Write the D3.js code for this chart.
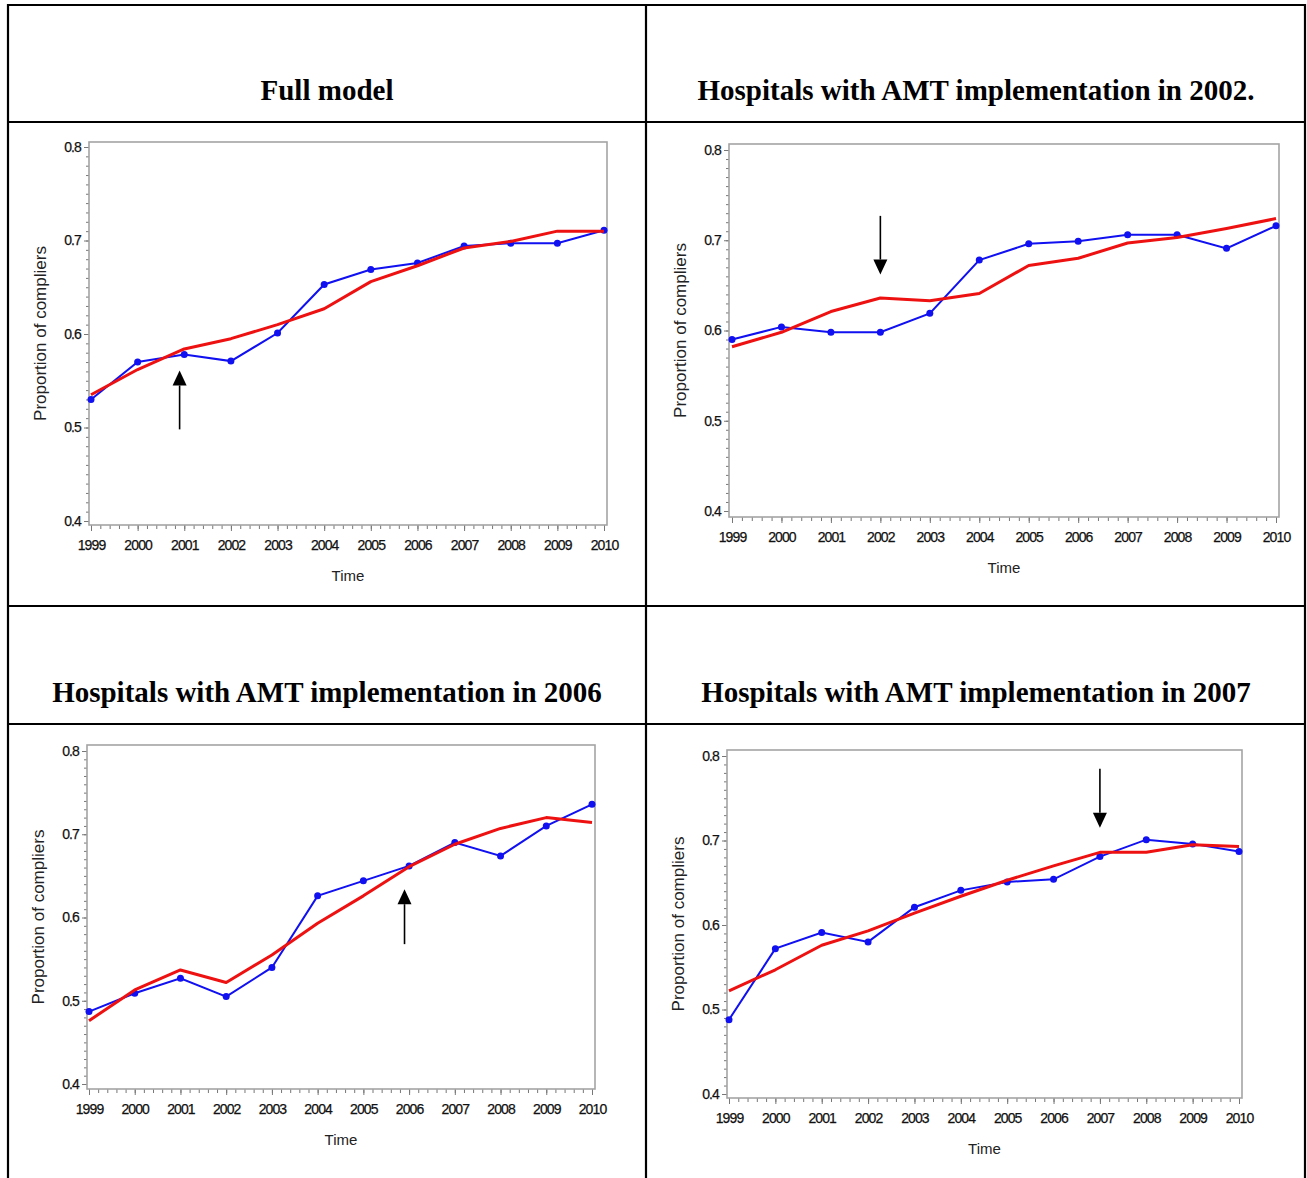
<!DOCTYPE html>
<html>
<head>
<meta charset="utf-8">
<script src="https://cdn.jsdelivr.net/npm/d3@7/dist/d3.min.js"></script>
<style>
	body { margin: 0; background: #fff; }
	svg { display: block; }
	.tick text { font-family: 'Liberation Sans', Arial, sans-serif; font-size: 14px; fill: #111; letter-spacing: -0.9px; stroke: #111; stroke-width: 0.25px; }
	.tick line { stroke: #777; }
	.axis-title { font-family: 'Liberation Sans', Arial, sans-serif; fill: #222; }
	.panel-title { font-family: 'Liberation Serif', 'Times New Roman', serif; font-weight: bold; font-size: 29px; fill: #000; }
</style>
</head>
<body>
<div id="chart"></div>
<script>
var years = [1999, 2000, 2001, 2002, 2003, 2004, 2005, 2006, 2007, 2008, 2009, 2010];
var yTicks = [0.4, 0.5, 0.6, 0.7, 0.8];

var titles = [
	'Full model',
	'Hospitals with AMT implementation in 2002.',
	'Hospitals with AMT implementation in 2006',
	'Hospitals with AMT implementation in 2007'
];

// observed proportions (blue) and fitted (red)
var observedFull = [0.530, 0.570, 0.578, 0.571, 0.601, 0.653, 0.669, 0.676, 0.694, 0.697, 0.697, 0.711];
var fittedFull   = [0.535, 0.562, 0.584, 0.595, 0.610, 0.627, 0.656, 0.673, 0.692, 0.699, 0.710, 0.710];
var observed2002 = [0.590, 0.604, 0.598, 0.598, 0.619, 0.678, 0.696, 0.699, 0.706, 0.706, 0.691, 0.716];
var fitted2002   = [0.582, 0.598, 0.621, 0.636, 0.633, 0.641, 0.672, 0.680, 0.697, 0.703, 0.713, 0.724];
var observed2006 = [0.487, 0.509, 0.527, 0.505, 0.540, 0.626, 0.644, 0.662, 0.690, 0.674, 0.710, 0.736];
var fitted2006   = [0.476, 0.513, 0.537, 0.522, 0.555, 0.593, 0.626, 0.661, 0.688, 0.707, 0.720, 0.714];
var observed2007 = [0.488, 0.572, 0.591, 0.580, 0.621, 0.641, 0.651, 0.654, 0.681, 0.701, 0.696, 0.687];
var fitted2007   = [0.522, 0.547, 0.576, 0.593, 0.614, 0.634, 0.653, 0.670, 0.686, 0.686, 0.695, 0.693];

// arrows: x position (year), tail value, head value
var arrowYear = [2000.9, 2002, 2005.9, 2007];
var arrowTail = [0.498, 0.727, 0.568, 0.785];
var arrowHead = [0.561, 0.662, 0.634, 0.715];

var observed = [observedFull, observed2002, observed2006, observed2007];
var fitted = [fittedFull, fitted2002, fitted2006, fitted2007];

var W = 1307, H = 1178;
var svg = d3.select('#chart').append('svg')
	.attr('width', W)
	.attr('height', H);
svg.append('rect').attr('width', W).attr('height', H).attr('fill', '#fff');

// table grid
var grid = svg.append('g').attr('stroke', '#000').attr('stroke-width', 2.2);
[[8, 5, 1305, 5], [8, 122, 1305, 122], [8, 606, 1305, 606], [8, 724, 1305, 724],
 [8, 4, 8, H], [646, 4, 646, H], [1305, 4, 1305, H]].forEach(function(l) {
	grid.append('line').attr('x1', l[0]).attr('y1', l[1]).attr('x2', l[2]).attr('y2', l[3]);
});

// title cells
var titlePos = [[327, 100], [976, 100], [327, 702], [976, 702]];

// plot frames: left, top, right, bottom, x(1999), x(2010), y(0.8), y(0.4)
var frames = [
	[89, 142, 607, 525, 91, 604, 147, 521],
	[729, 144, 1279, 517, 732, 1276, 150, 511],
	[87, 745, 595, 1089, 89, 592, 751, 1084],
	[727, 750, 1242, 1098, 729, 1239, 756, 1094]
];

var minorX = d3.range(years[0] * 5, years[years.length - 1] * 5 + 1).map(function(d) { return d / 5; });
var minorY = d3.range(40, 81).map(function(d) { return d / 100; });

frames.forEach(function(f, i) {
	svg.append('text')
		.attr('class', 'panel-title')
		.attr('x', titlePos[i][0])
		.attr('y', titlePos[i][1])
		.attr('text-anchor', 'middle')
		.text(titles[i]);

	var x = d3.scaleLinear().domain([years[0], years[years.length - 1]]).range([f[4], f[5]]);
	var y = d3.scaleLinear().domain([0.8, 0.4]).range([f[6], f[7]]);
	var g = svg.append('g');

	// minor ticks
	g.append('g')
		.attr('transform', 'translate(' + f[0] + ',0)')
		.call(d3.axisLeft(y).tickValues(minorY).tickSize(3).tickFormat(''))
		.call(function(a) { a.select('.domain').remove(); a.selectAll('line').attr('stroke', '#999'); });
	g.append('g')
		.attr('transform', 'translate(0,' + f[3] + ')')
		.call(d3.axisBottom(x).tickValues(minorX).tickSize(4).tickFormat(''))
		.call(function(a) { a.select('.domain').remove(); a.selectAll('line').attr('stroke', '#888'); });

	// major ticks
	g.append('g')
		.attr('transform', 'translate(' + f[0] + ',0)')
		.call(d3.axisLeft(y).tickValues(yTicks).tickSize(5).tickPadding(3).tickFormat(d3.format('.1f')))
		.call(function(a) { a.select('.domain').remove(); });
	g.append('g')
		.attr('transform', 'translate(0,' + f[3] + ')')
		.call(d3.axisBottom(x).tickValues(years).tickSize(6).tickPadding(9).tickFormat(d3.format('d')))
		.call(function(a) { a.select('.domain').remove(); });

	// frame
	g.append('rect')
		.attr('x', f[0])
		.attr('y', f[1])
		.attr('width', f[2] - f[0])
		.attr('height', f[3] - f[1])
		.attr('fill', 'none')
		.attr('stroke', '#a4a4a4')
		.attr('stroke-width', 1.6);

	// axis titles
	g.append('text')
		.attr('class', 'axis-title')
		.attr('x', (f[0] + f[2]) / 2)
		.attr('y', f[3] + 56)
		.attr('text-anchor', 'middle')
		.attr('font-size', 15)
		.text('Time');
	g.append('text')
		.attr('class', 'axis-title')
		.attr('transform', 'translate(' + (f[0] - 43) + ',' + ((f[1] + f[3]) / 2) + ') rotate(-90)')
		.attr('text-anchor', 'middle')
		.attr('font-size', 17)
		.text('Proportion of compliers');

	var line = d3.line()
		.x(function(d, j) { return x(years[j]); })
		.y(function(d) { return y(d); });

	g.append('path')
		.datum(observed[i])
		.attr('d', line)
		.attr('fill', 'none')
		.attr('stroke', '#1010f0')
		.attr('stroke-width', 2);
	g.selectAll('.pt')
		.data(observed[i])
		.enter()
		.append('circle')
		.attr('class', 'pt')
		.attr('cx', function(d, j) { return x(years[j]); })
		.attr('cy', function(d) { return y(d); })
		.attr('r', 3.5)
		.attr('fill', '#1010f0');
	g.append('path')
		.datum(fitted[i])
		.attr('d', line)
		.attr('fill', 'none')
		.attr('stroke', '#ee1111')
		.attr('stroke-width', 3)
		.attr('stroke-linejoin', 'round');

	// arrow
	var ax = x(arrowYear[i]), ay0 = y(arrowTail[i]), ay1 = y(arrowHead[i]);
	var dir = ay1 < ay0 ? 1 : -1;
	var headLen = 15, headW = 7;
	g.append('line')
		.attr('x1', ax).attr('y1', ay0)
		.attr('x2', ax).attr('y2', ay1 + dir * headLen)
		.attr('stroke', '#000')
		.attr('stroke-width', 1.6);
	g.append('path')
		.attr('d', 'M' + ax + ',' + ay1 + 'L' + (ax - headW) + ',' + (ay1 + dir * headLen) + 'L' + (ax + headW) + ',' + (ay1 + dir * headLen) + 'Z')
		.attr('fill', '#000');
});
</script>
</body>
</html>
